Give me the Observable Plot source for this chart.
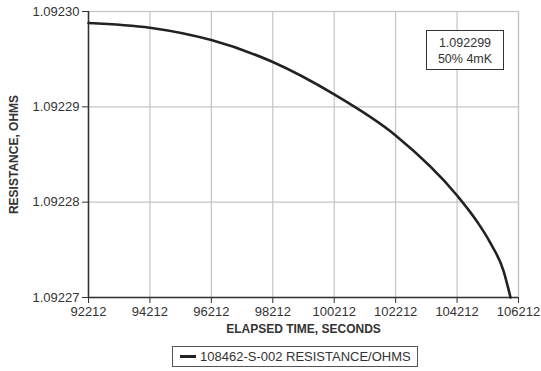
<!DOCTYPE html>
<html>
<head>
<meta charset="utf-8">
<script src="https://cdn.jsdelivr.net/npm/d3@7"></script>
<script src="https://cdn.jsdelivr.net/npm/@observablehq/plot@0.6"></script>
<style>
  body { margin: 0; background: #fff; font-family: "Liberation Sans", Arial, sans-serif; }
  #wrap { position: relative; width: 541px; height: 371px; }
  #chart svg [aria-label="x-axis label"] text,
  #chart svg [aria-label="y-axis label"] text { font-weight: bold; font-size: 12px; fill: #333; }
  #note { position: absolute; left: 426px; top: 30px; width: 78px; height: 40px; border: 1.3px solid #333;
          font-size: 12.5px; color: #333; text-align: center; line-height: 16px; padding-top: 4px; box-sizing: border-box; background: #fff; }
  #legend { position: absolute; left: 172px; top: 346px; }
  #legend .box { border: 1.3px solid #555; height: 21px; box-sizing: border-box; padding: 0 6px 0 7px; font-size: 13px; color: #333; display: flex; align-items: center; }
  #legend .sw { width: 16px; height: 3px; background: #222; margin-right: 4px; }
</style>
</head>
<body>
<div id="wrap">
  <div id="chart"></div>
  <div id="note"></div>
  <div id="legend"></div>
</div>
<script>
// Data
const elapsedSeconds = [92212, 94212, 96212, 98212, 100212, 102212, 104212, 104877, 105300, 105724, 105952];
const resistanceOhms = [1.0922988, 1.0922983, 1.0922970, 1.0922947, 1.0922913, 1.0922870, 1.0922807, 1.0922779, 1.0922757, 1.0922728, 1.0922700];
const xTicks = [92212, 94212, 96212, 98212, 100212, 102212, 104212, 106212];
const yTicks = [1.09227, 1.09228, 1.09229, 1.09230];
const seriesName = "108462-S-002 RESISTANCE/OHMS";
const noteLines = ["1.092299", "50% 4mK"];

const data = elapsedSeconds.map((t, i) => ({t, r: resistanceOhms[i]}));

const chart = Plot.plot({
  width: 541,
  height: 340,
  marginLeft: 88,
  marginRight: 23,
  marginTop: 11,
  marginBottom: 43,
  style: {fontFamily: "'Liberation Sans', Arial, sans-serif", fontSize: "13px", color: "#333", background: "#fff"},
  x: {domain: [xTicks[0], xTicks[xTicks.length - 1]]},
  y: {domain: [yTicks[0], yTicks[yTicks.length - 1]]},
  marks: [
    Plot.gridX(xTicks, {stroke: "#c4c4c4", strokeOpacity: 1, strokeWidth: 1.2}),
    Plot.gridY(yTicks, {stroke: "#c4c4c4", strokeOpacity: 1, strokeWidth: 1.2}),
    Plot.frame({stroke: "#c4c4c4", strokeWidth: 1.2}),
    Plot.axisX({ticks: xTicks, tickFormat: d => String(d), tickSize: 6, tickPadding: 3, stroke: "#333", fill: "#333",
      label: "ELAPSED TIME, SECONDS", labelAnchor: "center", labelArrow: "none", labelOffset: 35}),
    Plot.axisY({ticks: yTicks, tickFormat: d => d.toFixed(5), tickSize: 6, tickPadding: 3, stroke: "#333", fill: "#333",
      label: "RESISTANCE, OHMS", labelAnchor: "center", labelArrow: "none", labelOffset: 79}),
    Plot.ruleX([xTicks[0]], {stroke: "#333", strokeWidth: 1.5}),
    Plot.ruleY([yTicks[0]], {stroke: "#333", strokeWidth: 1.5}),
    Plot.line(data, {x: "t", y: "r", stroke: "#222", strokeWidth: 2.6, curve: "monotone-x"})
  ]
});
document.getElementById("chart").appendChild(chart);
document.getElementById("note").innerHTML = noteLines.join("<br>");
document.getElementById("legend").innerHTML = `<div class="box"><div class="sw"></div><span>${seriesName}</span></div>`;
</script>
</body>
</html>
